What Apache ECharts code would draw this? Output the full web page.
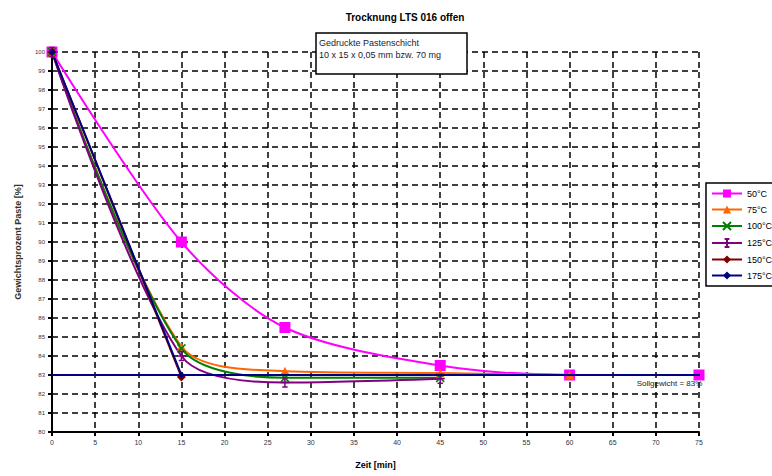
<!DOCTYPE html>
<html>
<head>
<meta charset="utf-8">
<script src="https://cdn.jsdelivr.net/npm/echarts@6/dist/echarts.min.js"></script>
<style>
  html, body { margin: 0; padding: 0; background: #fff; }
  #chart { width: 772px; height: 476px; }
</style>
</head>
<body>
<div id="chart"></div>
<script>
(function() {
  // --- data ---
  var seriesNames = ['50°C', '75°C', '100°C', '125°C', '150°C', '175°C'];
  var c50 = [[0, 100], [15, 90], [27, 85.5], [45, 83.5], [60, 83], [75, 83]];
  var c75 = [[0, 100], [15, 84.5], [27, 83.2], [45, 83.1], [60, 83]];
  var c100 = [[0, 100], [15, 84.4], [27, 82.85], [45, 82.85]];
  var c125 = [[0, 100], [15, 84], [27, 82.6], [45, 82.8]];
  var c150 = [[0, 100], [15, 82.9]];
  var c175 = [[0, 100], [15, 83]];
  // target line (Sollgewicht), runs a bit past the last tick
  var targetLine = [[0, 83], [79, 83]];
  var targetText = 'Sollgewicht = 83%';

  var ink = '#000';
  var fontFamily = '"Liberation Sans", Arial, sans-serif';

  var crossPath = 'path://M0,0L10,10M10,0L0,10';
  var starPath = 'path://M5,0L5,10M0,5L10,5M2,0L8,0M2,10L8,10';

  function mkSeries(name, data, color, symbol, size, stroke) {
    return {
      type: 'line',
      name: name,
      data: data,
      smooth: 0.3,
      symbol: symbol,
      symbolSize: size,
      showAllSymbol: true,
      lineStyle: { color: color, width: 2 },
      itemStyle: stroke
        ? { color: color, borderColor: color, borderWidth: 1.5 }
        : { color: color },
      z: 3
    };
  }

  var chart = echarts.init(document.getElementById('chart'), null, { renderer: 'svg' });

  var series = [
    mkSeries(seriesNames[0], c50, '#ff00ff', 'rect', 11),
    mkSeries(seriesNames[1], c75, '#ff6600', 'triangle', 9),
    mkSeries(seriesNames[2], c100, '#008000', crossPath, 8, true),
    mkSeries(seriesNames[3], c125, '#800080', starPath, 9, true),
    mkSeries(seriesNames[4], c150, '#800000', 'diamond', 9),
    mkSeries(seriesNames[5], c175, '#000080', 'diamond', 7)
  ];
  series.push({
    type: 'line',
    name: 'Sollgewicht',
    clip: false,
    silent: true,
    symbol: 'circle',
    symbolSize: 1,
    showAllSymbol: true,
    itemStyle: { color: 'rgba(0,0,0,0)' },
    lineStyle: { color: '#000080', width: 2 },
    z: 4,
    data: targetLine.map(function(p, i) {
      if (i !== targetLine.length - 1) return p;
      return {
        value: p,
        label: {
          show: true,
          position: 'bottom',
          offset: [-64, -1],
          formatter: targetText,
          color: '#222',
          fontSize: 8,
          fontFamily: fontFamily
        }
      };
    })
  });

  chart.setOption({
    animation: false,
    backgroundColor: '#fff',
    title: [
      {
        text: 'Trocknung LTS 016 offen',
        left: 400,
        textAlign: 'center',
        top: 7,
        textStyle: { color: ink, fontSize: 10, fontWeight: 'bold', fontFamily: fontFamily }
      },
      {
        text: 'Gedruckte Pastenschicht\n10 x 15 x 0,05 mm bzw. 70 mg',
        left: 316,
        top: 33,
        borderColor: ink,
        borderWidth: 1.5,
        backgroundColor: '#fff',
        padding: [4, 26, 13, 3],
        textStyle: { color: '#223', fontSize: 9, fontWeight: 'normal', fontFamily: fontFamily, lineHeight: 12 }
      }
    ],
    legend: {
      orient: 'vertical',
      left: 706,
      top: 183,
      itemGap: 7,
      itemWidth: 30,
      itemHeight: 10,
      borderColor: ink,
      borderWidth: 1.5,
      padding: [6, 20, 6, 5],
      backgroundColor: '#fff',
      textStyle: { color: ink, fontSize: 9, fontFamily: fontFamily },
      data: seriesNames
    },
    grid: { left: 52, right: 73, top: 52, bottom: 44 },
    xAxis: {
      type: 'value',
      min: 0,
      max: 75,
      interval: 5,
      name: 'Zeit [min]',
      nameLocation: 'middle',
      nameGap: 28,
      nameTextStyle: { color: ink, fontSize: 9, fontWeight: 'bold', fontFamily: fontFamily },
      axisLine: { show: true, onZero: false, lineStyle: { color: ink, width: 2 } },
      axisTick: { show: true, length: 4, lineStyle: { color: ink, width: 2 } },
      axisLabel: { color: '#334', fontSize: 7, fontFamily: fontFamily, margin: 7 },
      splitLine: { show: true, lineStyle: { color: ink, width: 1.5, type: [6, 4] } }
    },
    yAxis: {
      type: 'value',
      min: 80,
      max: 100,
      interval: 1,
      name: 'Gewichtsprozent Paste [%]',
      nameLocation: 'middle',
      nameGap: 30,
      nameRotate: 90,
      nameTextStyle: { color: '#332', fontSize: 9, fontWeight: 'bold', fontFamily: fontFamily },
      axisLine: { show: true, onZero: false, lineStyle: { color: ink, width: 2 } },
      axisTick: { show: true, length: 4, lineStyle: { color: ink, width: 2 } },
      axisLabel: { color: '#334', fontSize: 6, fontFamily: fontFamily, margin: 7 },
      splitLine: { show: true, lineStyle: { color: ink, width: 1.5, type: [6, 4] } }
    },
    series: series
  });
  window.addEventListener('resize', function() { chart.resize(); });
})();
</script>
</body>
</html>
